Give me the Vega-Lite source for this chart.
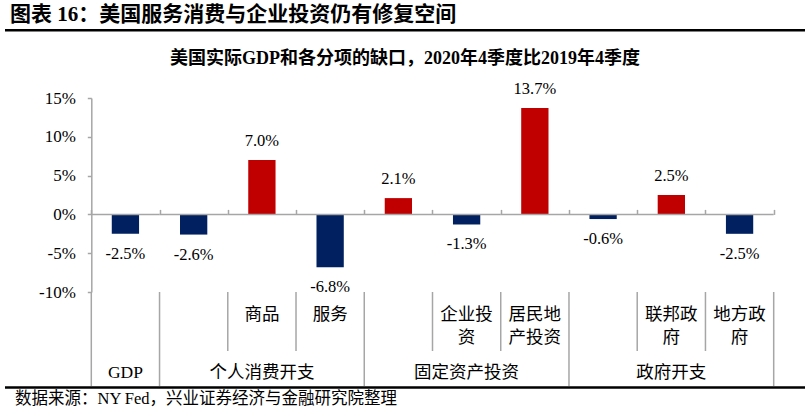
{
  "$schema": "https://vega.github.io/schema/vega-lite/v6.json",
  "background": "white",
  "padding": {"left": 3, "top": 4, "right": 0, "bottom": 0},
  "title": {"text": "图表 16：美国服务消费与企业投资仍有修复空间", "anchor": "start", "frame": "group", "dx": 5, "offset": 4, "font": "Liberation Serif, Noto Sans CJK SC", "fontSize": 21, "fontWeight": "bold", "color": "black"},
  "config": {
    "view": {"stroke": null},
    "font": "Liberation Serif, Noto Sans CJK SC",
    "axisY": {"labelOverlap": false, "grid": false, "title": null, "domainColor": "#A6A6A6", "domainWidth": 1.5, "tickColor": "#A6A6A6", "tickWidth": 1.5, "tickSize": 4, "labelPadding": 12, "labelFont": "Liberation Serif", "labelFontSize": 17, "labelColor": "black"},
    "locale": {"number": {"decimal": ".", "thousands": ",", "grouping": [3], "currency": ["", ""], "minus": "-"}}
  },
  "datasets": {
    "items": [
      {"cat": "GDP", "v": -0.025, "base": 0, "sub": "", "grp": "GDP", "gstart": true, "last": false},
      {"cat": "个人消费开支", "v": -0.026, "base": 0, "sub": "", "grp": "", "gstart": true, "last": false},
      {"cat": "商品", "v": 0.070, "base": 0, "sub": "商品", "grp": "个人消费开支", "gstart": false, "last": false},
      {"cat": "服务", "v": -0.068, "base": 0, "sub": "服务", "grp": "", "gstart": false, "last": false},
      {"cat": "固定资产投资", "v": 0.021, "base": 0, "sub": "", "grp": "", "gstart": true, "last": false},
      {"cat": "企业投资", "v": -0.013, "base": 0, "sub": "企业投\n资", "grp": "固定资产投资", "gstart": false, "last": false},
      {"cat": "居民地产投资", "v": 0.137, "base": 0, "sub": "居民地\n产投资", "grp": "", "gstart": false, "last": false},
      {"cat": "政府开支", "v": -0.006, "base": 0, "sub": "", "grp": "", "gstart": true, "last": false},
      {"cat": "联邦政府", "v": 0.025, "base": 0, "sub": "联邦政\n府", "grp": "政府开支", "gstart": false, "last": false},
      {"cat": "地方政府", "v": -0.025, "base": 0, "sub": "地方政\n府", "grp": "", "gstart": false, "last": true}
    ]
  },
  "bounds": "flush",
  "spacing": 0,
  "vconcat": [
    {
      "width": 800,
      "height": 2.5,
      "data": {"name": "items"},
      "layer": [
        {
          "transform": [{"filter": "datum.last"}],
          "mark": {"type": "rule", "color": "black", "strokeWidth": 2.5},
          "encoding": {
            "y": {"field": "cat", "type": "nominal", "scale": {"type": "point", "padding": 0}, "axis": null}
          }
        }
      ]
    },
    {
      "width": 800,
      "height": 65.5,
      "data": {"name": "items"},
      "layer": [
        {
          "mark": {"type": "bar", "color": "white", "opacity": 0},
          "encoding": {
            "x": {"field": "cat", "type": "nominal", "sort": null, "scale": {"type": "band", "paddingInner": 0, "paddingOuter": 0}, "axis": null}
          }
        }
      ]
    },
    {
      "width": 800,
      "height": 194,
      "title": {"text": "美国实际GDP和各分项的缺口，2020年4季度比2019年4季度", "anchor": "middle", "frame": "group", "fontSize": 18, "fontWeight": "bold", "offset": 13, "font": "Liberation Serif, Noto Sans CJK SC", "color": "black"},
      "data": {"name": "items"},
      "encoding": {
        "x": {
          "field": "cat", "type": "nominal", "sort": null,
          "scale": {"type": "band", "domain": ["GDP", "个人消费开支", "商品", "服务", "固定资产投资", "企业投资", "居民地产投资", "政府开支", "联邦政府", "地方政府"], "paddingInner": 0, "paddingOuter": 0.8617, "align": 0.7338},
          "axis": {"orient": "top", "offset": -116.4, "domain": false, "labels": false, "ticks": true, "tickBand": "extent", "tickSize": 5, "tickColor": "#A6A6A6", "tickWidth": 1.5, "title": null, "grid": false}
        }
      },
      "layer": [
        {
          "mark": {"type": "bar", "width": {"band": 0.4}},
          "encoding": {
            "y": {
              "field": "v", "type": "quantitative",
              "scale": {"domain": [-0.1, 0.15], "nice": false, "zero": false},
              "axis": {"values": [-0.1, -0.05, 0, 0.05, 0.1, 0.15], "format": ".0%", "offset": -86.3, "labelOverlap": false}
            },
            "color": {"condition": {"test": "datum.v > 0", "value": "#C00000"}, "value": "#002060"}
          }
        },
        {
          "transform": [{"filter": "datum.v > 0"}],
          "mark": {"type": "text", "baseline": "middle", "dy": -19, "fontSize": 16.5, "font": "Liberation Serif", "color": "black"},
          "encoding": {
            "y": {"field": "v", "type": "quantitative", "axis": {"values": [-0.1, -0.05, 0, 0.05, 0.1, 0.15], "format": ".0%", "offset": -86.3, "labelOverlap": false}},
            "text": {"field": "v", "type": "quantitative", "format": ".1%"}
          }
        },
        {
          "transform": [{"filter": "datum.v < 0"}],
          "mark": {"type": "text", "baseline": "middle", "dy": 20, "fontSize": 16.5, "font": "Liberation Serif", "color": "black"},
          "encoding": {
            "y": {"field": "v", "type": "quantitative", "axis": {"values": [-0.1, -0.05, 0, 0.05, 0.1, 0.15], "format": ".0%", "offset": -86.3, "labelOverlap": false}},
            "text": {"field": "v", "type": "quantitative", "format": ".1%"}
          }
        },
        {
          "mark": {"type": "rect", "fill": "transparent", "stroke": "#A6A6A6", "strokeWidth": 1.5},
          "encoding": {
            "y": {"field": "base", "type": "quantitative", "axis": {"values": [-0.1, -0.05, 0, 0.05, 0.1, 0.15], "format": ".0%", "offset": -86.3, "labelOverlap": false}},
            "y2": {"field": "base"}
          }
        }
      ]
    },
    {
      "width": 800,
      "height": 59,
      "data": {"name": "items"},
      "layer": [
        {
          "mark": {"type": "rule", "color": "#A6A6A6", "strokeWidth": 1.5},
          "encoding": {
            "x": {
              "field": "cat", "type": "nominal", "sort": null, "bandPosition": 0, "axis": null,
              "scale": {"type": "band", "domain": ["GDP", "个人消费开支", "商品", "服务", "固定资产投资", "企业投资", "居民地产投资", "政府开支", "联邦政府", "地方政府"], "paddingInner": 0, "paddingOuter": 0.8617, "align": 0.7338}
            }
          }
        },
        {
          "transform": [{"filter": "datum.last"}],
          "mark": {"type": "rule", "color": "#A6A6A6", "strokeWidth": 1.5},
          "encoding": {"x": {"field": "cat", "type": "nominal", "sort": null, "bandPosition": 1, "axis": null}}
        },
        {
          "mark": {"type": "text", "lineBreak": "\n", "baseline": "top", "dy": -15.5, "lineHeight": 23, "fontSize": 17.5, "font": "Liberation Serif, Noto Sans CJK SC", "color": "black"},
          "encoding": {
            "x": {"field": "cat", "type": "nominal", "sort": null, "axis": null},
            "text": {"field": "sub", "type": "nominal"}
          }
        }
      ]
    },
    {
      "width": 800,
      "height": 35,
      "data": {"name": "items"},
      "layer": [
        {
          "transform": [{"filter": "datum.gstart"}],
          "mark": {"type": "rule", "color": "#A6A6A6", "strokeWidth": 1.5},
          "encoding": {
            "x": {
              "field": "cat", "type": "nominal", "sort": null, "bandPosition": 0, "axis": null,
              "scale": {"type": "band", "domain": ["GDP", "个人消费开支", "商品", "服务", "固定资产投资", "企业投资", "居民地产投资", "政府开支", "联邦政府", "地方政府"], "paddingInner": 0, "paddingOuter": 0.8617, "align": 0.7338}
            }
          }
        },
        {
          "transform": [{"filter": "datum.last"}],
          "mark": {"type": "rule", "color": "#A6A6A6", "strokeWidth": 1.5},
          "encoding": {"x": {"field": "cat", "type": "nominal", "sort": null, "bandPosition": 1, "axis": null}}
        },
        {
          "mark": {"type": "text", "baseline": "middle", "dy": 4, "fontSize": 17.5, "font": "Liberation Serif, Noto Sans CJK SC", "color": "black"},
          "encoding": {
            "x": {"field": "cat", "type": "nominal", "sort": null, "axis": null},
            "text": {"field": "grp", "type": "nominal"}
          }
        }
      ]
    },
    {
      "width": 800,
      "height": 3,
      "title": {"text": "数据来源：NY Fed，兴业证券经济与金融研究院整理", "orient": "bottom", "anchor": "start", "frame": "group", "dx": 10, "offset": 2, "fontSize": 16.5, "fontWeight": "normal", "font": "Liberation Serif, Noto Sans CJK SC", "color": "black"},
      "data": {"name": "items"},
      "layer": [
        {
          "transform": [{"filter": "datum.last"}],
          "mark": {"type": "rule", "color": "black", "strokeWidth": 2.5},
          "encoding": {
            "y": {"field": "cat", "type": "nominal", "scale": {"type": "point", "padding": 0}, "axis": null}
          }
        }
      ]
    }
  ]
}
